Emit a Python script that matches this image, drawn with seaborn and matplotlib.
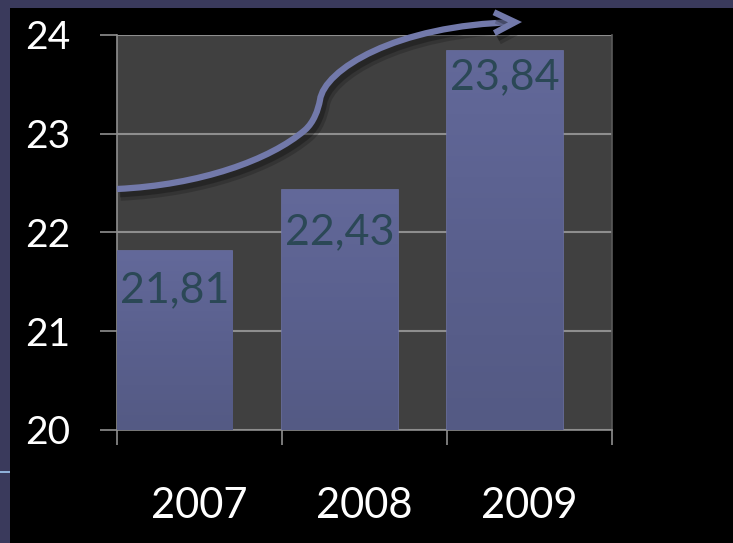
import numpy as np
import matplotlib
matplotlib.use("Agg")
import matplotlib.pyplot as plt
import seaborn as sns
from matplotlib.path import Path
from matplotlib.patches import FancyArrowPatch, Rectangle
from matplotlib import patheffects as pe
from matplotlib.ticker import FixedLocator

# ---- data ----
years = ["2007", "2008", "2009"]
values = [21.81, 22.43, 23.84]
value_labels = ["21,81", "22,43", "23,84"]
y_ticks = [20, 21, 22, 23, 24]

# ---- style ----
sns.set_theme(style="dark")
plt.rcParams["font.family"] = ["Lato", "DejaVu Sans"]

W, H, DPI = 733, 543, 100
SLIDE = "#3a3a5c"
PLOT_BG = "#404040"
GRID = "#8e8e8e"
BAR = "#5a608e"
BAR_TOP = "#63699a"
BAR_BOTTOM = "#545a84"
LABEL = "#2b4856"
ARROW = "#7279aa"
BAR_WIDTH = 0.7
LABEL_DROP_PX = [51, 54, 38]

fig = plt.figure(figsize=(W / DPI, H / DPI), dpi=DPI, facecolor="black")

# slide frame around the black panel
fig.add_artist(Rectangle((0, 0), 10 / W, 1, transform=fig.transFigure,
                         facecolor=SLIDE, edgecolor="none", zorder=0))
fig.add_artist(Rectangle((0, 1 - 8 / H), 1, 8 / H, transform=fig.transFigure,
                         facecolor=SLIDE, edgecolor="none", zorder=0))
fig.add_artist(Rectangle((0, 1 - 473 / H), 10 / W, 2 / H, transform=fig.transFigure,
                         facecolor="#8fb0d8", edgecolor="none", zorder=1))


def px_box(x0, y0, x1, y1):
    return [x0 / W, 1 - y1 / H, (x1 - x0) / W, (y1 - y0) / H]


ax = fig.add_axes(px_box(117, 35, 612, 430))
ax.set_facecolor(PLOT_BG)

df = {"year": years, "value": values}
sns.barplot(x="year", y="value", data=df, color=BAR, width=BAR_WIDTH,
            saturation=1, ax=ax, zorder=3)

# soft vertical shading inside each bar
grad = np.linspace(0, 1, 256).reshape(-1, 1)
cmap = matplotlib.colors.LinearSegmentedColormap.from_list("bar", [BAR_BOTTOM, BAR, BAR_TOP])
for patch in ax.patches:
    x0, y0 = patch.get_x(), patch.get_y()
    w, h = patch.get_width(), patch.get_height()
    im = ax.imshow(grad, cmap=cmap, aspect="auto", origin="lower",
                   extent=(x0, x0 + w, y_ticks[0], y0 + h), zorder=3.5,
                   interpolation="bicubic")
    im.set_clip_path(patch)
    patch.set_edgecolor("#6a70a2")
    patch.set_linewidth(1.2)
ax.set_xlim(-BAR_WIDTH / 2, len(years) - BAR_WIDTH / 2)
ax.set_ylim(y_ticks[0], y_ticks[-1])
ax.set_aspect("auto")

# value labels near the top of each bar
for i, (v, lab) in enumerate(zip(values, value_labels)):
    ax.annotate(lab, xy=(i, v), xytext=(0, -LABEL_DROP_PX[i] * 0.72),
                textcoords="offset points", ha="center", va="baseline",
                fontsize=31, color=LABEL, zorder=5)

# y axis: ticks, grid, labels
ax.yaxis.set_major_locator(FixedLocator(y_ticks))
ax.set_yticklabels([str(t) for t in y_ticks])
ax.yaxis.grid(True, color=GRID, linewidth=1.5, zorder=1)
ax.xaxis.grid(False)
ax.tick_params(axis="y", which="major", length=12, width=1.2, color=GRID,
               direction="out", pad=54, labelsize=28, labelcolor="white", left=True)
for t in ax.get_yticklabels():
    t.set_horizontalalignment("left")

# x axis: category labels centred in each slot, tick marks on slot boundaries
centers = [i - BAR_WIDTH / 2 + 0.5 for i in range(len(years))]
bounds = [i - BAR_WIDTH / 2 for i in range(len(years) + 1)]
ax.xaxis.set_major_locator(FixedLocator(centers))
ax.set_xticklabels(years)
ax.xaxis.set_minor_locator(FixedLocator(bounds))
ax.tick_params(axis="x", which="major", length=0, pad=41, labelsize=30,
               labelcolor="white", bottom=True)
ax.tick_params(axis="x", which="minor", length=11, width=1.2, color=GRID,
               direction="out", bottom=True)
ax.set_xlabel("")
ax.set_ylabel("")

for side in ["left", "bottom", "right"]:
    ax.spines[side].set_visible(True)
    ax.spines[side].set_color(GRID)
    ax.spines[side].set_linewidth(1.2)
ax.spines["top"].set_visible(False)
ax.spines["right"].set_color("#5a5a5a")

# rising trend arrow drawn over the chart
pts_px = [(117, 189), (200, 185), (270, 160), (305, 130),
          (314, 122), (318, 110), (320, 100),
          (324, 70), (395, 25), (522, 22)]
codes = [Path.MOVETO] + [Path.CURVE4] * 9
verts = [(x / W, 1 - y / H) for x, y in pts_px]
trend = FancyArrowPatch(path=Path(verts, codes), transform=fig.transFigure,
                        arrowstyle="->,head_length=1.5,head_width=0.75",
                        mutation_scale=10, color=ARROW, linewidth=4.5,
                        zorder=10, clip_on=False, fill=False,
                        capstyle="butt", joinstyle="miter")
trend.set_path_effects([
    pe.SimpleLineShadow(offset=(2.5, -4), shadow_color="black", alpha=0.18, linewidth=9),
    pe.SimpleLineShadow(offset=(2, -3), shadow_color="black", alpha=0.25, linewidth=6),
    pe.Normal(),
])
fig.add_artist(trend)

fig.savefig("out.png", dpi=DPI, facecolor=fig.get_facecolor())
